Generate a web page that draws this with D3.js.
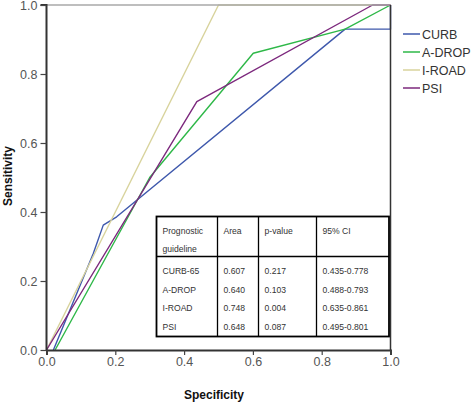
<!DOCTYPE html>
<html>
<head>
<meta charset="utf-8">
<script src="https://cdn.jsdelivr.net/npm/d3@7"></script>
<style>
html,body{margin:0;padding:0;background:#fff;}
svg{display:block;font-family:"Liberation Sans",Arial,sans-serif;}
</style>
</head>
<body>
<svg id="chart" width="472" height="404"></svg>
<script>
// ---- data ----
const seriesNames = ["CURB", "A-DROP", "I-ROAD", "PSI"];
const seriesColors = ["#3e58ac", "#2eb848", "#d8d39c", "#7c287d"];
const curbPoints  = [[0.02,0],[0.136,0.28],[0.165,0.362],[0.204,0.386],[0.868,0.93],[1,0.93],[1,1]];
const adropPoints = [[0.025,0],[0.3,0.5],[0.601,0.86],[0.868,0.93],[1,1]];
const iroadPoints = [[0,0],[0.5,1],[1,1]];
const psiPoints   = [[0,0],[0.437,0.72],[0.948,1],[1,1]];
const tickValues = [0, 0.2, 0.4, 0.6, 0.8, 1.0];
const tableHeader = [["Prognostic","guideline"],["Area"],["p-value"],["95% CI"]];
const tableGuidelines = ["CURB-65","A-DROP","I-ROAD","PSI"];
const tableArea = ["0.607","0.640","0.748","0.648"];
const tablePValue = ["0.217","0.103","0.004","0.087"];
const tableCI = ["0.435-0.778","0.488-0.793","0.635-0.861","0.495-0.801"];

const allSeries = [curbPoints, adropPoints, iroadPoints, psiPoints];

const svg = d3.select("#chart");
const x = d3.scaleLinear().domain([0,1]).range([46.5, 390.5]);
const y = d3.scaleLinear().domain([0,1]).range([350, 5]);

// curves
const line = d3.line().x(d=>x(d[0])).y(d=>y(d[1]));
allSeries.forEach((pts,i)=>{
  svg.append("path").datum(pts).attr("d",line)
    .attr("fill","none").attr("stroke",seriesColors[i]).attr("stroke-width",1.4)
    .attr("stroke-linejoin","round");
});

// frame (top and right)
svg.append("line").attr("x1",x(0)).attr("x2",x(1)).attr("y1",y(1)).attr("y2",y(1))
  .attr("stroke","#a8a8a8").attr("stroke-width",1.5);
svg.append("line").attr("x1",x(1)).attr("x2",x(1)).attr("y1",y(0)).attr("y2",y(1))
  .attr("stroke","#333").attr("stroke-width",1.5);

// axes
const fmt = d3.format(".1f");
const yAxis = svg.append("g").attr("transform",`translate(${x(0)},0)`)
  .call(d3.axisLeft(y).tickValues(tickValues).tickFormat(fmt).tickSize(6).tickPadding(3));
const xAxis = svg.append("g").attr("transform",`translate(0,${y(0)})`)
  .call(d3.axisBottom(x).tickValues(tickValues).tickFormat(fmt).tickSize(5).tickPadding(2));
[yAxis,xAxis].forEach(a=>{
  a.select(".domain").attr("stroke","#333").attr("stroke-width",2);
  a.selectAll(".tick line").attr("stroke","#444").attr("stroke-width",1.2);
  a.selectAll(".tick text").attr("fill","#555").attr("font-size","12.5px")
    .attr("font-family","'Liberation Sans',Arial,sans-serif");
});
yAxis.select(".domain").attr("d",`M-6,${y(1)}H0V${y(0)}`);

// axis titles
svg.append("text").attr("x",214).attr("y",399).attr("text-anchor","middle")
  .attr("font-weight","bold").attr("font-size","12px").attr("fill","#111").text("Specificity");
svg.append("text").attr("transform","translate(12,176) rotate(-90)").attr("text-anchor","middle")
  .attr("font-weight","bold").attr("font-size","12px").attr("fill","#111").text("Sensitivity");

// legend
const leg = svg.append("g");
seriesNames.forEach((n,i)=>{
  const ly = 34 + i*18;
  leg.append("line").attr("x1",403).attr("x2",420).attr("y1",ly).attr("y2",ly)
    .attr("stroke",seriesColors[i]).attr("stroke-width",1.5);
  leg.append("text").attr("x",422).attr("y",ly+4.5).attr("font-size","12.5px")
    .attr("fill","#333").text(n);
});

// table
const tLeft=156.5, tRight=389, tTop=216.5, tBottom=336.5, tHead=256.5;
const colX=[tLeft,217.5,258.5,316.5,tRight];
const tg = svg.append("g");
tg.append("rect").attr("x",tLeft).attr("y",tTop).attr("width",tRight-tLeft).attr("height",tBottom-tTop)
  .attr("fill","#fff").attr("stroke","#000").attr("stroke-width",1.8);
tg.append("line").attr("x1",tLeft).attr("x2",tRight).attr("y1",tHead).attr("y2",tHead)
  .attr("stroke","#000").attr("stroke-width",1.3);
colX.slice(1,4).forEach(cx=>{
  tg.append("line").attr("x1",cx).attr("x2",cx).attr("y1",tTop).attr("y2",tBottom)
    .attr("stroke","#000").attr("stroke-width",1.3);
});
const tf = "8.6px";
tableHeader.forEach((lines,c)=>{
  lines.forEach((t,k)=>{
    tg.append("text").attr("x",colX[c]+6).attr("y",234+k*18).attr("font-size",tf)
      .attr("fill","#333").text(t);
  });
});
const cols=[tableGuidelines,tableArea,tablePValue,tableCI];
cols.forEach((vals,c)=>{
  vals.forEach((t,r)=>{
    tg.append("text").attr("x",colX[c]+6).attr("y",274+r*18.6).attr("font-size",tf)
      .attr("fill","#333").text(t);
  });
});
</script>
</body>
</html>
